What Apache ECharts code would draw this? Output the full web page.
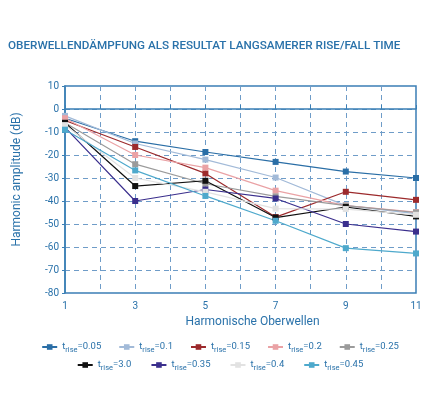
<!DOCTYPE html>
<html>
<head>
<meta charset="utf-8">
<script src="https://cdn.jsdelivr.net/npm/echarts@6/dist/echarts.min.js"></script>
<style>
html,body{margin:0;padding:0;background:#fff;}
#chart{width:440px;height:400px;}
</style>
</head>
<body>
<div id="chart"></div>
<script>
// harmonics on the x axis
const harmonics = [1, 3, 5, 7, 9, 11];
const riseNames = ['0.05', '0.1', '0.15', '0.2', '0.25', '3.0', '0.35', '0.4', '0.45'];
const riseColors = ['#2a6ea6', '#a2bad8', '#9c2a2c', '#eaa2a5', '#9b9b9b', '#111111', '#3b2f8d', '#e2e2e2', '#4ea9cc'];

// amplitude (dB) per t_rise
const rise005 = [-4, -14, -18.7, -23, -27.2, -30];
const rise01 = [-3, -15, -22, -29.8, -42, -45.5];
const rise015 = [-5, -16.5, -28, -47, -36, -39.5];
const rise02 = [-4, -20, -25.5, -35.5, -42, -44.8];
const rise025 = [-6, -24, -32.5, -38, -42, -45];
const rise30 = [-6, -33.5, -31.2, -47.2, -42.6, -46.7];
const rise035 = [-8, -40, -35, -38.9, -50, -53.3];
const rise04 = [-7, -30, -36, -43.3, -43.5, -46];
const rise045 = [-9, -26.7, -37.8, -48.6, -60.5, -62.8];

const allValues = [rise005, rise01, rise015, rise02, rise025, rise30, rise035, rise04, rise045];

const blue = '#2a72aa';
const font = 'Roboto';

const chart = echarts.init(document.getElementById('chart'));

const series = riseNames.map((n, i) => ({
    name: n,
    type: 'line',
    symbol: 'rect',
    symbolSize: 6,
    color: riseColors[i],
    lineStyle: { width: 1.2, color: riseColors[i] },
    itemStyle: { color: riseColors[i] },
    data: harmonics.map((h, j) => [h, allValues[i][j]])
}));

const legendText = {
    formatter: (name) => '{t|t}{s|rise}{v|=' + name + '}',
    textStyle: {
        rich: {
            t: { fontSize: 9.5, color: blue, fontFamily: font, lineHeight: 14, verticalAlign: 'middle' },
            s: { fontSize: 7.5, color: blue, fontFamily: font, lineHeight: 14, verticalAlign: 'bottom', padding: [5, 0, 0, 0] },
            v: { fontSize: 9.5, color: blue, fontFamily: font, lineHeight: 14, verticalAlign: 'middle' }
        }
    }
};

const option = {
    backgroundColor: '#fff',
    animation: false,
    title: {
        text: 'OBERWELLENDÄMPFUNG ALS RESULTAT LANGSAMERER RISE/FALL TIME',
        left: 8,
        top: 40,
        padding: 0,
        textStyle: { fontSize: 11.7, fontWeight: 500, color: blue, fontFamily: font }
    },
    legend: [
        Object.assign({
            data: riseNames.slice(0, 5),
            top: 341,
            left: 'center',
            width: 430,
            padding: 0,
            itemWidth: 15,
            itemHeight: 7,
            itemGap: 17
        }, legendText),
        Object.assign({
            data: riseNames.slice(5),
            top: 359,
            left: 'center',
            width: 430,
            padding: 0,
            itemWidth: 15,
            itemHeight: 7,
            itemGap: 19
        }, legendText)
    ],
    grid: {
        left: 65,
        right: 24,
        top: 86,
        bottom: 107,
        show: true,
        borderColor: '#3a7fb5',
        borderWidth: 1.5
    },
    xAxis: {
        type: 'value',
        min: 1,
        max: 11,
        interval: 1,
        name: 'Harmonische Oberwellen',
        nameLocation: 'middle',
        nameGap: 22,
        nameTextStyle: { fontSize: 12, color: blue, fontFamily: font, padding: [0, 0, 0, 24] },
        axisLine: { show: true, lineStyle: { color: '#3a7fb5', width: 1.5 } },
        axisTick: { inside: true, length: 4, lineStyle: { color: '#3a7fb5' } },
        axisLabel: {
            fontSize: 10, color: blue, fontFamily: font, margin: 8,
            formatter: (v) => (v % 2 === 1 ? String(v) : '')
        },
        splitLine: { show: true, lineStyle: { type: [5, 4], color: '#6f9cc8', width: 1 } }
    },
    yAxis: {
        type: 'value',
        min: -80,
        max: 10,
        interval: 10,
        name: 'Harmonic amplitude (dB)',
        nameLocation: 'middle',
        nameGap: 42,
        nameTextStyle: { fontSize: 12, color: blue, fontFamily: font, padding: [0, 0, 0, 20] },
        axisLine: { show: true, lineStyle: { color: '#3a7fb5', width: 1.5 } },
        axisTick: { show: true, length: 3, lineStyle: { color: '#3a7fb5' } },
        axisLabel: { fontSize: 10, color: blue, fontFamily: font, margin: 6 },
        splitLine: { show: true, lineStyle: { type: [5, 4], color: '#6f9cc8', width: 1 } }
    },
    series: series
};

chart.setOption(option);
</script>
</body>
</html>
